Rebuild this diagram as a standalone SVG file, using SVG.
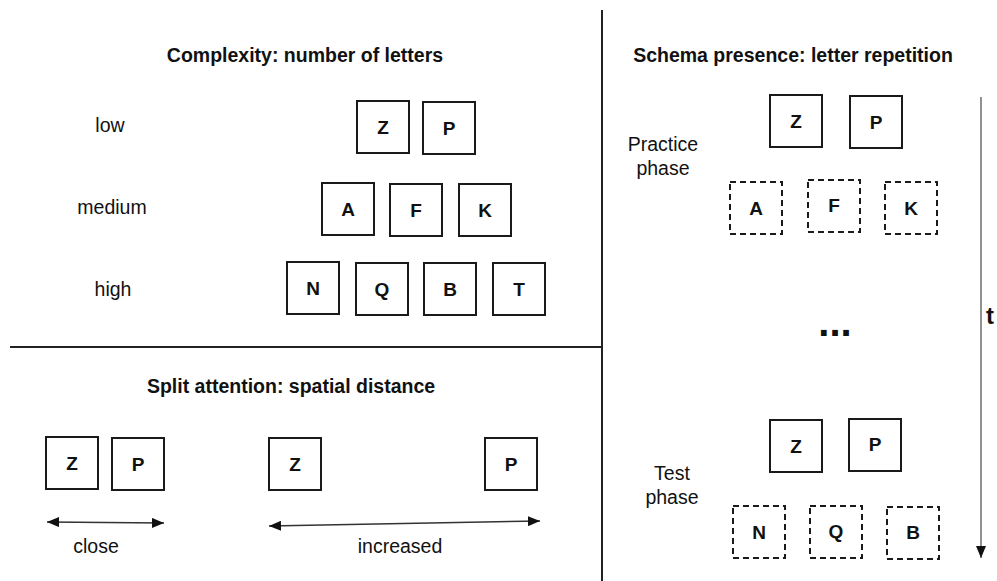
<svg xmlns="http://www.w3.org/2000/svg" width="997" height="581" viewBox="0 0 997 581">
<style>
.bg{fill:#ffffff}
.box{fill:#ffffff;stroke:#1a1a1a;stroke-width:2}
.dbox{fill:#ffffff;stroke:#1a1a1a;stroke-width:2;stroke-dasharray:6 4}
.let{font-family:"Liberation Sans",Arial,sans-serif;font-weight:bold;font-size:19px;fill:#111;text-anchor:middle}
.title{font-family:"Liberation Sans",Arial,sans-serif;font-weight:bold;font-size:19.5px;fill:#111;text-anchor:middle}
.lab{font-family:"Liberation Sans",Arial,sans-serif;font-size:19.5px;fill:#111;text-anchor:middle}
.div{stroke:#222;stroke-width:2;fill:none}
.conn{stroke:#333;stroke-width:1.5;fill:none}
.tline{stroke:#555;stroke-width:1.3;fill:none}
</style>
<defs>
<marker id="ah" viewBox="0 0 12 10" refX="12" refY="5" markerWidth="12" markerHeight="10" markerUnits="userSpaceOnUse" orient="auto-start-reverse">
<path d="M0,0 L12,5 L0,10 z" fill="#111"/>
</marker>
<marker id="ahT" viewBox="0 0 12 10" refX="12" refY="5" markerWidth="12" markerHeight="10" markerUnits="userSpaceOnUse" orient="auto">
<path d="M0,0 L12,5 L0,10 z" fill="#111"/>
</marker>
</defs>
<rect class="bg" x="0" y="0" width="997" height="581"/>

<g id="dividers">
<line class="div" x1="602" y1="10" x2="602" y2="581"/>
<line class="div" x1="10" y1="347" x2="602" y2="347"/>
</g>

<g id="titles">
<text class="title" x="305" y="62">Complexity: number of letters</text>
<text class="title" x="793" y="62">Schema presence: letter repetition</text>
<text class="title" x="291" y="393">Split attention: spatial distance</text>
</g>

<g id="labels">
<text class="lab" x="110" y="132">low</text>
<text class="lab" x="112" y="214">medium</text>
<text class="lab" x="113" y="296">high</text>
<text class="lab" x="663" y="151">Practice</text>
<text class="lab" x="663" y="175">phase</text>
<text class="lab" x="672" y="480">Test</text>
<text class="lab" x="672" y="504">phase</text>
<text class="lab" x="96" y="553">close</text>
<text class="lab" x="400" y="553">increased</text>
<text x="990" y="324" style="font-family:'Liberation Sans',Arial,sans-serif;font-weight:bold;font-size:24px;fill:#111;text-anchor:middle">t</text>
<text x="835" y="336" style="font-family:'Liberation Sans',Arial,sans-serif;font-weight:bold;font-size:40px;fill:#111;text-anchor:middle">...</text>
</g>

<!-- Complexity: low -->
<g id="c-low-Z"><rect class="box" x="357" y="101" width="52" height="52"/><text class="let" x="383" y="134">Z</text></g>
<g id="c-low-P"><rect class="box" x="423" y="102" width="52" height="52"/><text class="let" x="449" y="135">P</text></g>
<!-- medium -->
<g id="c-med-A"><rect class="box" x="322" y="183" width="52" height="52"/><text class="let" x="348" y="216">A</text></g>
<g id="c-med-F"><rect class="box" x="390" y="184" width="52" height="52"/><text class="let" x="416" y="217">F</text></g>
<g id="c-med-K"><rect class="box" x="459" y="184" width="52" height="52"/><text class="let" x="485" y="217">K</text></g>
<!-- high -->
<g id="c-high-N"><rect class="box" x="287" y="262" width="52" height="52"/><text class="let" x="313" y="295">N</text></g>
<g id="c-high-Q"><rect class="box" x="356" y="263" width="52" height="52"/><text class="let" x="382" y="296">Q</text></g>
<g id="c-high-B"><rect class="box" x="424" y="263" width="52" height="52"/><text class="let" x="450" y="296">B</text></g>
<g id="c-high-T"><rect class="box" x="493" y="263" width="52" height="52"/><text class="let" x="519" y="296">T</text></g>

<!-- Split attention -->
<g id="s-close-Z"><rect class="box" x="46" y="437" width="52" height="52"/><text class="let" x="72" y="470">Z</text></g>
<g id="s-close-P"><rect class="box" x="112" y="438" width="52" height="52"/><text class="let" x="138" y="471">P</text></g>
<g id="s-far-Z"><rect class="box" x="269" y="438" width="52" height="52"/><text class="let" x="295" y="471">Z</text></g>
<g id="s-far-P"><rect class="box" x="485" y="438" width="52" height="52"/><text class="let" x="511" y="471">P</text></g>

<!-- Schema: practice -->
<g id="p-Z"><rect class="box" x="770" y="95" width="52" height="52"/><text class="let" x="796" y="128">Z</text></g>
<g id="p-P"><rect class="box" x="850" y="96" width="52" height="52"/><text class="let" x="876" y="129">P</text></g>
<g id="p-A"><rect class="dbox" x="730" y="182" width="52" height="52"/><text class="let" x="756" y="215">A</text></g>
<g id="p-F"><rect class="dbox" x="808" y="180" width="52" height="52"/><text class="let" x="834" y="212">F</text></g>
<g id="p-K"><rect class="dbox" x="885" y="182" width="52" height="52"/><text class="let" x="911" y="215">K</text></g>
<!-- Schema: test -->
<g id="t-Z"><rect class="box" x="770" y="420" width="52" height="52"/><text class="let" x="796" y="453">Z</text></g>
<g id="t-P"><rect class="box" x="849" y="419" width="52" height="52"/><text class="let" x="875" y="451">P</text></g>
<g id="t-N"><rect class="dbox" x="733" y="506" width="52" height="52"/><text class="let" x="759" y="539">N</text></g>
<g id="t-Q"><rect class="dbox" x="810" y="506" width="52" height="52"/><text class="let" x="836" y="538">Q</text></g>
<g id="t-B"><rect class="dbox" x="887" y="507" width="52" height="52"/><text class="let" x="913" y="539">B</text></g>

<g id="connectors">
<line class="conn" x1="47" y1="522" x2="164" y2="523" marker-start="url(#ah)" marker-end="url(#ah)"/>
<line class="conn" x1="269" y1="526" x2="540" y2="521" marker-start="url(#ah)" marker-end="url(#ah)"/>
<line class="tline" x1="981" y1="97" x2="981" y2="558" marker-end="url(#ahT)"/>
</g>
</svg>
